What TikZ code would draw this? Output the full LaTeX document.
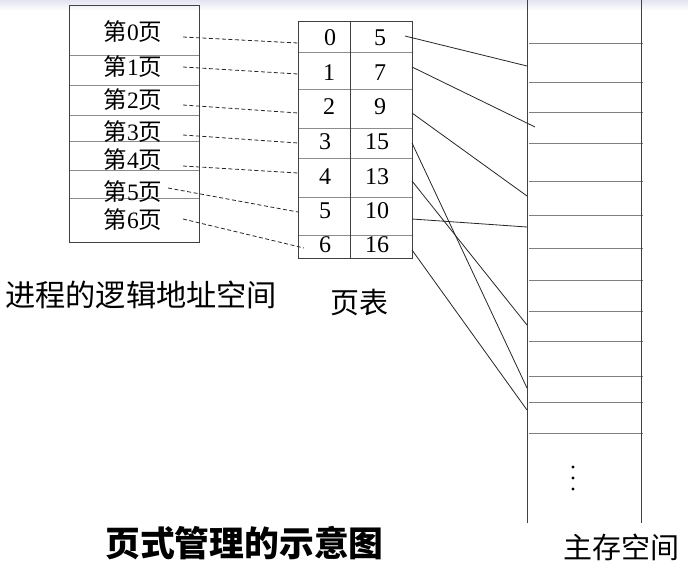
\documentclass[tikz,border=0pt]{standalone}
\usepackage{fontspec}
\setmainfont{Liberation Serif}
\newfontfamily\cjk{Noto Sans CJK SC}
\newcommand{\pg}[1]{{\cjk 第}#1{\cjk 页}}
\begin{document}
\begin{tikzpicture}[x=1pt,y=-1pt,
  frame/.style={draw=black!75, line width=1pt},
  rowline/.style={draw=black!45, line width=0.9pt},
  memline/.style={draw=black!50, line width=0.9pt},
  lbl/.style={font=\fontsize{23.5}{23.5}\selectfont, inner sep=0pt},
  num/.style={font=\fontsize{24}{24}\selectfont, inner sep=0pt},
  dashlink/.style={dashed, dash pattern=on 4pt off 2.5pt, line width=0.8pt, black!85},
  link/.style={line width=0.8pt, black!85},
  capt/.style={font=\cjk\fontsize{29}{29}\selectfont, inner sep=0pt}]
\useasboundingbox (0,0) rectangle (688,565);
\shade[top color={rgb,255:red,228;green,228;blue,242}, bottom color=white] (0,0) rectangle (688,11);
% left box (logical address space)
\foreach \y in {55,85,115,141,170,198} \draw[rowline] (69,\y) -- (199,\y);
\draw[frame] (69,5) rectangle (199,242);
\node[lbl] (p0) at (133,32) {\pg{0}};
\node[lbl] (p1) at (133,67) {\pg{1}};
\node[lbl] (p2) at (133,100) {\pg{2}};
\node[lbl] (p3) at (133,132) {\pg{3}};
\node[lbl] (p4) at (133,160) {\pg{4}};
\node[lbl] (p5) at (133,192) {\pg{5}};
\node[lbl] (p6) at (133,220) {\pg{6}};
% page table
\foreach \y in {52,89,128,158,197,235} \draw[rowline] (298,\y) -- (412,\y);
\draw[frame] (298,21) rectangle (412,258);
\draw[frame] (350,21) -- (350,258);
\node[num] (n0) at (330,38) {0};  \node[num] (f0) at (380,38) {5};
\node[num] (n1) at (329,73) {1};  \node[num] (f1) at (380,73) {7};
\node[num] (n2) at (329,107) {2}; \node[num] (f2) at (380,107) {9};
\node[num] (n3) at (325,142) {3}; \node[num] (f3) at (377,142) {15};
\node[num] (n4) at (325,177) {4}; \node[num] (f4) at (377,177) {13};
\node[num] (n5) at (325,211) {5}; \node[num] (f5) at (377,211) {10};
\node[num] (n6) at (325,245) {6}; \node[num] (f6) at (377,245) {16};
% main memory
\foreach \y in {43,82,112,143,181,215,248,280,311,341,376,402,433} \draw[memline] (529,\y) -- (643,\y);
\draw[frame] (527,0) -- (527,523);
\draw[frame] (641,0) -- (641,523);
\foreach \y in {467,478,489} \fill (573,\y) circle (1.7pt);
% dashed connectors
\coordinate (a0) at (183,37);  \coordinate (b0) at (298,43);
\coordinate (a1) at (183,67);  \coordinate (b1) at (298,74);
\coordinate (a2) at (183,105); \coordinate (b2) at (298,113);
\coordinate (a3) at (183,135); \coordinate (b3) at (298,143);
\coordinate (a4) at (183,166); \coordinate (b4) at (298,173);
\coordinate (a5) at (168,188); \coordinate (b5) at (298,212);
\coordinate (a6) at (183,219); \coordinate (b6) at (304,248);
\foreach \i in {0,...,6} \draw[dashlink] (a\i) -- (b\i);
% solid connectors to frames
\coordinate (s0) at (405,36);  \coordinate (t0) at (527,66);
\coordinate (s1) at (412,67);  \coordinate (t1) at (535,127);
\coordinate (s2) at (412,113); \coordinate (t2) at (527,196);
\coordinate (s3) at (412,143); \coordinate (t3) at (527,388);
\coordinate (s4) at (412,181); \coordinate (t4) at (527,325);
\coordinate (s5) at (412,219); \coordinate (t5) at (527,227);
\coordinate (s6) at (412,250); \coordinate (t6) at (527,410);
\foreach \i in {0,...,6} \draw[link] (s\i) -- (t\i);
% captions
\node[capt, anchor=west, font=\cjk\fontsize{30.2}{30.2}\selectfont] (cl) at (5,295) {进程的逻辑地址空间};
\node[capt, anchor=west] (ct) at (330,303) {页表};
\node[capt, anchor=west] (cm) at (563,547) {主存空间};
\node[font=\cjk\bfseries\fontsize{34.8}{34.8}\selectfont, inner sep=0pt, anchor=west] (title) at (105,543) {页式管理的示意图};
\end{tikzpicture}
\end{document}
